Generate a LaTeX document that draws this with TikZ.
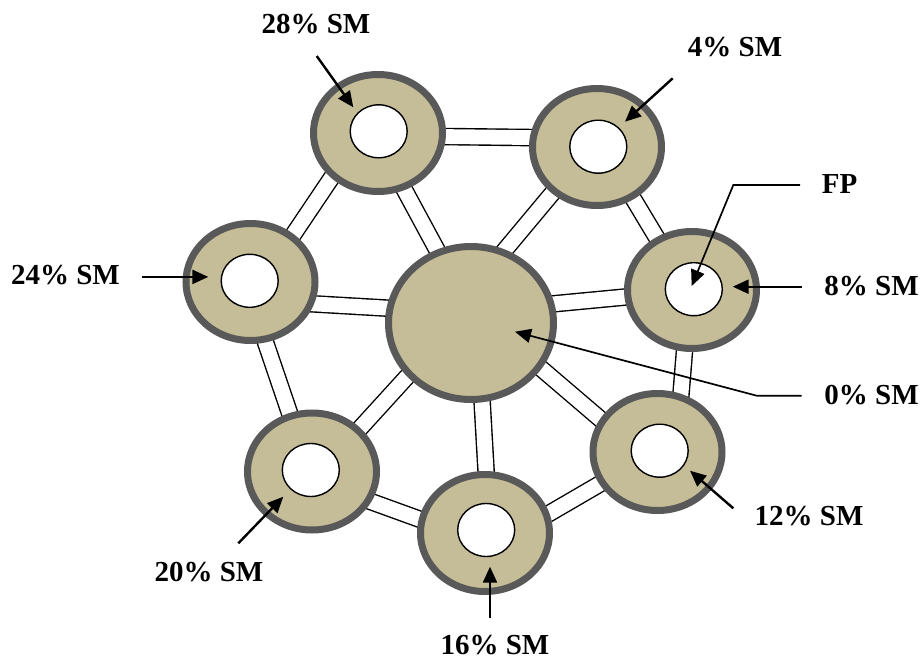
\documentclass[tikz,border=0pt]{standalone}
\usepackage{fontspec}
\setmainfont{Liberation Serif}
\usetikzlibrary{shapes.geometric,arrows.meta,backgrounds}
\definecolor{ringfill}{RGB}{196,189,151}
\definecolor{ringedge}{RGB}{89,89,89}
\begin{document}
\begin{tikzpicture}[x=0.5pt,y=-0.5pt,
  ring/.style={ellipse,draw=ringedge,line width=3.5pt,fill=ringfill,
    minimum width=64.5pt,minimum height=58.5pt,inner sep=0pt},
  hub/.style={ring,minimum width=82.5pt,minimum height=76.5pt},
  hole/.style={ellipse,draw=black,line width=0.7pt,fill=white,
    minimum width=28.5pt,minimum height=26.5pt,inner sep=0pt},
  link/.style={draw=black,line width=0.7pt,double=white,double distance=7.4pt,
    shorten <=-6pt,shorten >=-6pt},
  tag/.style={font=\fontsize{14.5}{17}\selectfont\bfseries,inner sep=0pt},
  pointer/.style={line width=1.2pt,-{Triangle[length=8pt,width=7pt]}},
  leader/.style={line width=0.85pt,-{Triangle[length=8pt,width=7pt]}}
]
\useasboundingbox (0,0) rectangle (923,659);

% rings and the central hub
\node[ring] (R28) at (378,133) {};
\node[ring] (R4)  at (597,147) {};
\node[ring] (R24) at (250.5,282) {};
\node[hub]  (C)   at (471,323) {};
\node[ring] (R8)  at (692,290) {};
\node[ring] (R12) at (657.5,452) {};
\node[ring] (R20) at (312,471.5) {};
\node[ring] (R16) at (485,533) {};

% open pores
\node[hole] (H28) at (378.7,131.3) {};
\node[hole] (H4)  at (598.3,146.7) {};
\node[hole] (H24) at (249.7,280.8) {};
\node[hole] (H8)  at (693.8,289.2) {};
\node[hole] (H12) at (659.7,450.7) {};
\node[hole] (H20) at (310.8,470) {};
\node[hole] (H16) at (486.2,530) {};

% double-walled channels between the rings
\begin{scope}[on background layer]
  \draw[link] (R28.-3)  -- (R4.172);
  \draw[link] (R28.224) -- (R24.48);
  \draw[link] (R28.-65) -- (C.115);
  \draw[link] (R4.226)  -- (C.65);
  \draw[link] (R4.-55)  -- (R8.124);
  \draw[link] (R24.-19) -- (C.170);
  \draw[link] (R24.-76) -- (R20.111);
  \draw[link] (C.13)    -- (R8.186);
  \draw[link] (C.220)   -- (R20.42);
  \draw[link] (C.-82)   -- (R16.89);
  \draw[link] (C.-33)   -- (R12.150);
  \draw[link] (R8.-97)  -- (R12.68);
  \draw[link] (R20.-27) -- (R16.168);
  \draw[link] (R16.17)  -- (R12.209);
\end{scope}

% labels
\node[tag] (L28) at (316,24)     {28\% SM};
\node[tag] (L4)  at (735,47)     {4\% SM};
\node[tag] (L24) at (65.5,275.5) {24\% SM};
\node[tag] (LFP) at (839.5,184.5){FP};
\node[tag] (L8)  at (871.5,286)  {8\% SM};
\node[tag] (L0)  at (871.5,395)  {0\% SM};
\node[tag] (L12) at (809,516.5)  {12\% SM};
\node[tag] (L16) at (495,645)    {16\% SM};
\node[tag] (L20) at (209,572.5)  {20\% SM};

% arrow ends
\coordinate (s28) at (316.7,56);    \coordinate (t28) at (353.3,107.3);
\coordinate (s4)  at (672.7,78.3);  \coordinate (t4)  at (625,121.7);
\coordinate (s24) at (141.7,276.9); \coordinate (t24) at (208.3,276.9);
\coordinate (sFP) at (800,185);     \coordinate (kFP) at (733.3,185);
\coordinate (tFP) at (691.7,286);
\coordinate (s8)  at (801.7,286.7); \coordinate (t8)  at (732.7,286.7);
\coordinate (s0)  at (801.7,395.7); \coordinate (k0)  at (756.7,395.7);
\coordinate (t0)  at (515,331.7);
\coordinate (s12) at (733.3,508.3); \coordinate (t12) at (690,470.7);
\coordinate (s16) at (490,618.3);   \coordinate (t16) at (490,566.7);
\coordinate (s20) at (238.3,543.3); \coordinate (t20) at (283.3,496.7);

% arrows
\draw[pointer] (s28) -- (t28);
\draw[pointer] (s4)  -- (t4);
\draw[pointer] (s24) -- (t24);
\draw[leader]  (sFP) -- (kFP) -- (tFP);
\draw[pointer] (s8)  -- (t8);
\draw[leader]  (s0)  -- (k0)  -- (t0);
\draw[pointer] (s12) -- (t12);
\draw[pointer] (s16) -- (t16);
\draw[pointer] (s20) -- (t20);
\end{tikzpicture}
\end{document}
